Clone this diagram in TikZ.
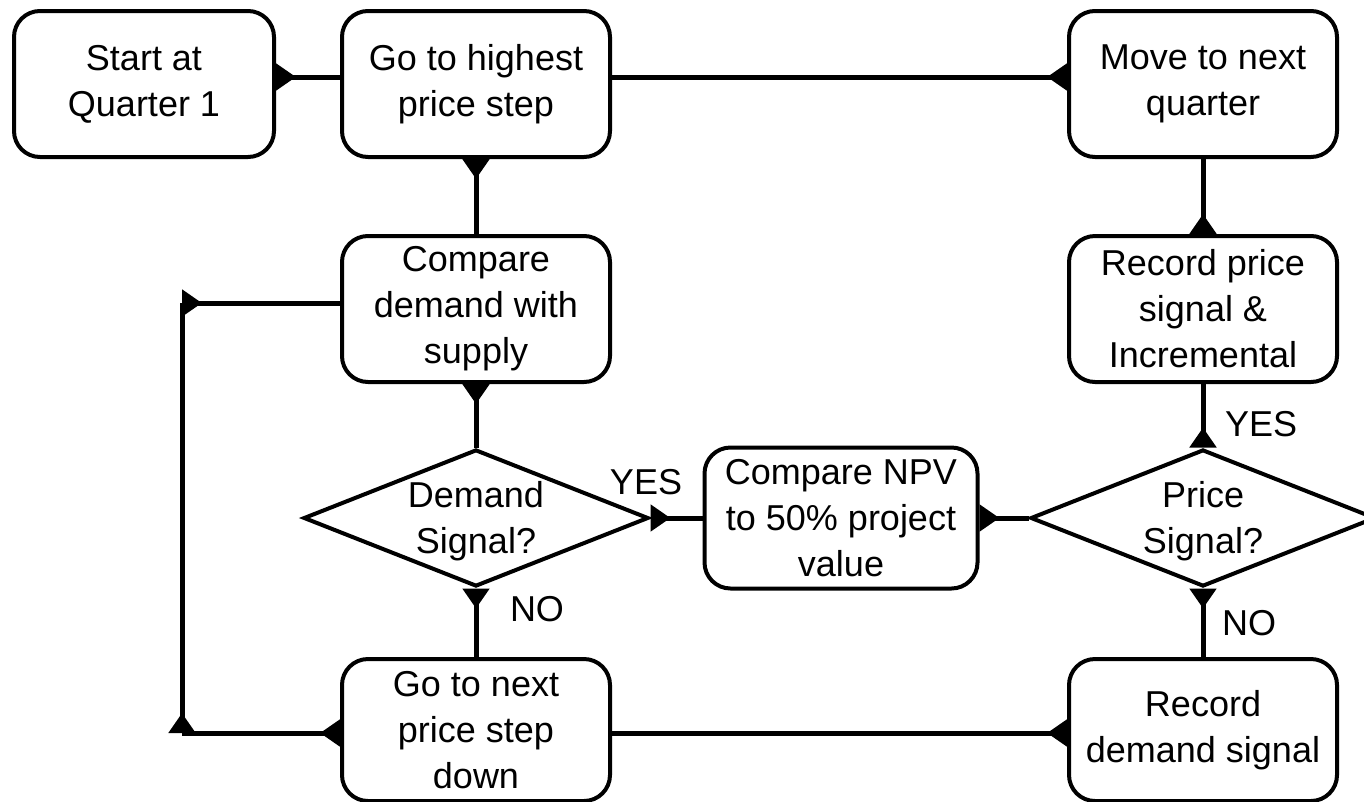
\documentclass[tikz,border=0pt]{standalone}
\usepackage{fontspec}
\setmainfont{Liberation Sans}
\usetikzlibrary{shapes.geometric,arrows.meta}
\begin{document}
\begin{tikzpicture}[x=1pt,y=-1pt,
 box/.style={draw, line width=4pt, rounded corners=26pt, minimum width=268pt, minimum height=146pt, align=center, inner sep=0pt, font=\fontsize{36}{46}\selectfont},
 dia/.style={draw, shape=diamond, line width=4pt, minimum width=345pt, minimum height=137pt, inner sep=0pt},
 txt/.style={align=center, inner sep=0pt, font=\fontsize{36}{46}\selectfont},
 conn/.style={line width=5pt, {Triangle[reversed,length=20pt,width=26pt]}-}
]
\useasboundingbox (0,0) rectangle (1364,801);
\node[box, minimum width=260pt] (start) at (144,84) {Start at\\Quarter 1};
\node[box] (go) at (476,84) {Go to highest\\price step};
\node[box] (move) at (1203,84) {Move to next\\quarter};
\node[box] (cmp) at (476,309) {Compare\\demand with\\supply};
\node[box] (recp) at (1203,309) {Record price\\signal \&\\Incremental};
\node[dia] (dem) at (476,518) {};
\node[txt] (demt) at (476,521) {Demand\\Signal?};
\node[box, minimum width=273pt, minimum height=141pt] (npv) at (841,518) {Compare NPV\\to 50\% project\\value};
\node[dia] (price) at (1203,518) {};
\node[txt] (pricet) at (1203,521) {Price\\Signal?};
\node[box, minimum height=142pt] (gonext) at (476,730) {Go to next\\price step\\down};
\node[box, minimum height=142pt] (recd) at (1203,730) {Record\\demand signal};
\node[txt] (yes1) at (646,482) {YES};
\node[txt] (no1) at (537,609) {NO};
\node[txt] (yes2) at (1261,424) {YES};
\node[txt] (no2) at (1249,623) {NO};
\draw[conn] ([yshift=7pt]start.east) -- ([yshift=7pt]go.west);
\draw[conn] ([yshift=7pt]move.west) -- ([yshift=7pt]go.east);
\draw[conn] (go.south) -- (cmp.north);
\draw[conn] (cmp.south) -- (dem.north);
\draw[conn] (dem.south) -- (gonext.north);
\draw[conn] (dem.east) -- (npv.west);
\draw[conn] (npv.east) -- (price.west);
\draw[conn] (price.north) -- (recp.south);
\draw[conn] (recp.north) -- (move.south);
\draw[conn] (price.south) -- (recd.north);
\draw[conn] ([yshift=-3pt]recd.west) -- ([yshift=-3pt]gonext.east);
\coordinate (bl) at (182,733);
\coordinate (tl) at (182,303);
\draw[conn] ([yshift=-3pt]gonext.west) -- (bl);
\draw[conn] (bl) -- (tl);
\draw[conn] (tl) -- ([yshift=6pt]cmp.west);
\end{tikzpicture}
\end{document}
